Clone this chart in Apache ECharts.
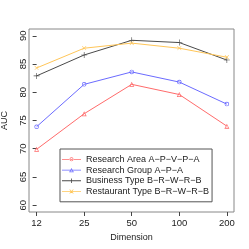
<!DOCTYPE html>
<html><head><meta charset="utf-8">
<script src="https://cdn.jsdelivr.net/npm/echarts@6/dist/echarts.min.js"></script>
<style>html,body{margin:0;padding:0;background:#fff}#c{width:249px;height:249px}</style>
</head><body><div id="c"></div>
<script>
const categories = ['12','25','50','100','200'];
const researchArea = [69.9, 76.2, 81.4, 79.6, 74.0];
const researchGroup = [73.9, 81.4, 83.6, 81.8, 77.9];
const businessType = [82.9, 86.6, 89.2, 88.8, 85.7];
const restaurantType = [84.3, 87.8, 88.7, 87.8, 86.2];
const yTicks = [60, 65, 70, 75, 80, 85, 90];
const names = ['Research Area A\u2212P\u2212V\u2212P\u2212A','Research Group A\u2212P\u2212A','Business Type B\u2212R\u2212W\u2212R\u2212B','Restaurant Type B\u2212R\u2212W\u2212R\u2212B'];
const colors = ['#ff6b6b','#6b6bff','#4a4a4a','#ffc658'];

const plus = 'path://M0,4.5H10V5.5H0Z M4.5,0H5.5V10H4.5Z';
const triRing = 'path://M5,0L10,9L0,9Z M5,2.4L2.3,7.6L7.7,7.6Z';
const cirRing = 'path://M0,5A5,5 0 1,0 10,5A5,5 0 1,0 0,5Z M1.5,5A3.5,3.5 0 1,1 8.5,5A3.5,3.5 0 1,1 1.5,5Z';
const font = 'Liberation Sans, Arial, sans-serif';
// legend glyphs: line + marker, as in the reference legend
const lline = 'M0,2.1H19V2.9H0Z ';
const legendIcons = [
  'path://' + lline + 'M7.5,2.5A2,2 0 1,0 11.5,2.5A2,2 0 1,0 7.5,2.5Z M8.2,2.5A1.3,1.3 0 1,1 10.8,2.5A1.3,1.3 0 1,1 8.2,2.5Z',
  'path://' + lline + 'M9.5,0.3L11.9,4.5L7.1,4.5Z M9.5,1.6L8.3,3.8L10.7,3.8Z',
  'path://' + lline + 'M9.1,0.3H9.9V4.7H9.1Z',
  'path://' + lline + 'M7.4,0.8L7.9,0.3L11.6,4.2L11.1,4.7Z M11.1,0.3L11.6,0.8L7.9,4.7L7.4,4.2Z'
];
function ser(i, data, symbol, size, rot) {
  return {
    name: names[i], type: 'line', data: data.map((v, k) => [k, v]),
    symbol: symbol, symbolSize: size, symbolRotate: rot || 0,
    lineStyle: {color: colors[i], width: 1},
    itemStyle: {color: colors[i], borderWidth: 0},
    emphasis: {disabled: true}, animation: false, z: 5 + i
  };
}
const chart = echarts.init(document.getElementById('c'), null, {renderer: 'canvas'});
chart.setOption({
  backgroundColor: '#fff',
  animation: false,
  grid: {left: 29, top: 29, right: 15, bottom: 37, containLabel: false, outerBoundsMode: 'none',
         show: true, borderColor: '#888', borderWidth: 1, backgroundColor: 'transparent'},
  xAxis: {
    type: 'value', min: -0.16, max: 4.15,
    name: 'Dimension', nameLocation: 'middle', nameGap: 19,
    nameTextStyle: {fontFamily: font, fontSize: 9, color: '#222'},
    axisLine: {show: false},
    axisTick: {show: true, length: 4, customValues: [0,1,2,3,4], lineStyle: {color: '#444'}},
    axisLabel: {customValues: [0,1,2,3,4], formatter: v => categories[Math.round(v)], fontFamily: font, fontSize: 9.5, color: '#222', margin: 6},
    splitLine: {show: false}
  },
  yAxis: {
    type: 'value', min: 58.8, max: 91.2,
    name: 'AUC', nameLocation: 'middle', nameGap: 20, nameRotate: 90,
    nameTextStyle: {fontFamily: font, fontSize: 9, color: '#222'},
    axisLine: {show: false},
    axisTick: {show: true, length: 4, customValues: yTicks, lineStyle: {color: '#444'}},
    axisLabel: {customValues: yTicks, rotate: 90, fontFamily: font, fontSize: 9.5, color: '#222', margin: 1},
    splitLine: {show: false}
  },
  legend: {
    orient: 'vertical', left: 60, top: 149,
    backgroundColor: '#fff', borderColor: '#555', borderWidth: 1, borderRadius: 0,
    padding: [5, 3, 5, 2], itemGap: 0, itemWidth: 19, itemHeight: 5,
    itemStyle: {borderWidth: 0},
    textStyle: {fontFamily: font, fontSize: 9, color: '#222', lineHeight: 10.7},
    data: names.map((n, i) => ({name: n, icon: legendIcons[i], itemStyle: {color: colors[i], borderWidth: 0}}))
  },
  series: [
    ser(0, researchArea, triRing, 5),
    ser(1, researchGroup, cirRing, 4.5),
    ser(2, businessType, plus, 6),
    ser(3, restaurantType, plus, 5.5, 45)
  ]
});
</script></body></html>
